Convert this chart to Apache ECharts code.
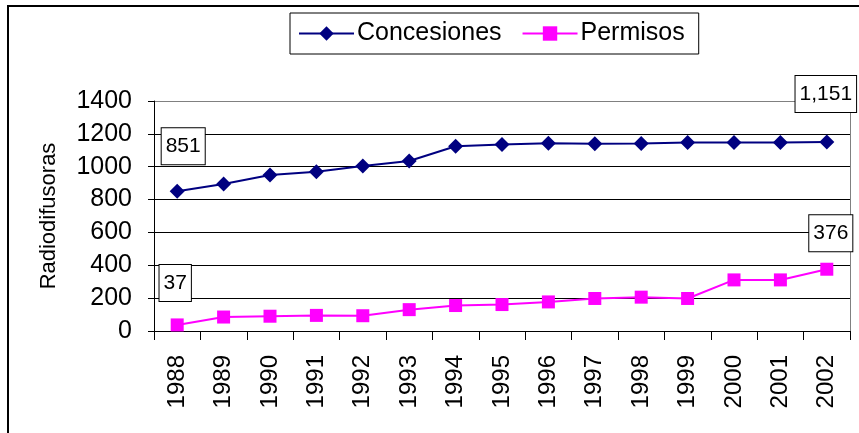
<!DOCTYPE html>
<html>
<head>
<meta charset="utf-8">
<script src="https://cdn.jsdelivr.net/npm/echarts@6/dist/echarts.min.js"></script>
<style>
html,body{margin:0;padding:0;background:#fff;}
#chart{width:859px;height:433px;}
</style>
</head>
<body>
<div id="chart"></div>
<script>
const years = ['1988','1989','1990','1991','1992','1993','1994','1995','1996','1997','1998','1999','2000','2001','2002'];
const concesiones = [851, 895, 950, 970, 1005, 1035, 1125, 1135, 1143, 1140, 1141, 1148, 1148, 1148, 1151];
const permisos = [37, 85, 90, 95, 93, 130, 155, 161, 177, 198, 206, 198, 311, 311, 376];
const yTicks = [0, 200, 400, 600, 800, 1000, 1200, 1400];

const FONT = 'Arial, "Liberation Sans", sans-serif';
const labelBox = {
  show: true,
  position: 'inside',
  align: 'center',
  verticalAlign: 'middle',
  color: '#000',
  fontFamily: FONT,
  fontSize: 21,
  backgroundColor: '#fff',
  borderColor: '#000',
  borderWidth: 1,
  padding: [8, 4, 7, 4],
  formatter: p => Number(p.value).toLocaleString('en-US')
};
function withEndLabels(arr, firstOffset, lastOffset) {
  return arr.map((v, i) => {
    if (i === 0) return { value: v, label: Object.assign({}, labelBox, { offset: firstOffset }) };
    if (i === arr.length - 1) return { value: v, label: Object.assign({}, labelBox, { offset: lastOffset }) };
    return v;
  });
}

const chart = echarts.init(document.getElementById('chart'), null, { renderer: 'canvas' });
chart.setOption({
  animation: false,
  backgroundColor: '#fff',
  textStyle: { fontFamily: FONT },
  graphic: [{
    type: 'rect',
    shape: { x: 8, y: 6, width: 900, height: 500 },
    style: { fill: 'none', stroke: '#000', lineWidth: 2 },
    silent: true
  }],
  legend: {
    top: 13,
    left: 290,
    itemWidth: 55,
    itemHeight: 18,
    itemGap: 20,
    padding: [8, 14, 8, 8],
    borderColor: '#000',
    borderWidth: 1,
    backgroundColor: '#fff',
    textStyle: { fontFamily: FONT, fontSize: 25, color: '#000', padding: [0, 0, 0, -2] },
    data: ['Concesiones', 'Permisos']
  },
  grid: { left: 154, right: 9, top: 101, bottom: 102, containLabel: false },
  xAxis: {
    type: 'category',
    data: years,
    boundaryGap: true,
    axisLine: { lineStyle: { color: '#000', width: 1 } },
    axisTick: { show: true, length: 9, lineStyle: { color: '#000' } },
    axisLabel: { rotate: 90, margin: 24, fontSize: 24, color: '#000', fontFamily: FONT },
    splitLine: { show: false }
  },
  yAxis: [{
    type: 'value',
    min: yTicks[0],
    max: yTicks[yTicks.length - 1],
    interval: 200,
    name: 'Radiodifusoras',
    nameLocation: 'middle',
    nameRotate: 90,
    nameGap: 94,
    nameTextStyle: { fontSize: 22, color: '#000', fontFamily: FONT },
    axisLine: { show: true, lineStyle: { color: '#000', width: 1 } },
    axisTick: { show: true, length: 6, lineStyle: { color: '#000' } },
    axisLabel: { fontSize: 25, color: '#000', margin: 22, fontFamily: FONT, formatter: v => String(v) },
    splitLine: { show: true, lineStyle: { color: ['#000','#000','#000','#000','#000','#000','#000','#808080'], width: 1 } }
  }, {
    type: 'value',
    position: 'right',
    min: yTicks[0],
    max: yTicks[yTicks.length - 1],
    interval: 200,
    axisLine: { show: true, lineStyle: { color: '#808080', width: 1 } },
    axisTick: { show: false },
    axisLabel: { show: false },
    splitLine: { show: false }
  }],
  series: [{
    name: 'Concesiones',
    type: 'line',
    data: withEndLabels(concesiones, [6, -45], [-1, -48]),
    symbol: 'diamond',
    symbolSize: 15,
    color: '#000080',
    lineStyle: { color: '#000080', width: 2 },
    itemStyle: { color: '#000080' },
    z: 3
  }, {
    name: 'Permisos',
    type: 'line',
    data: withEndLabels(permisos, [-2, -42], [4, -36]),
    symbol: 'rect',
    symbolSize: 13,
    color: '#FF00FF',
    lineStyle: { color: '#FF00FF', width: 2 },
    itemStyle: { color: '#FF00FF' },
    z: 3
  }]
});
</script>
</body>
</html>
